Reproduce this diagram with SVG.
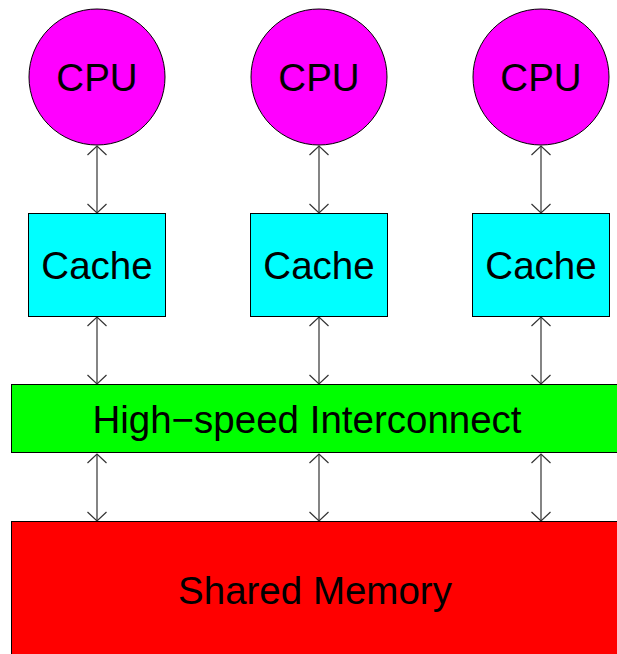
<svg xmlns="http://www.w3.org/2000/svg" width="617" height="654" viewBox="0 0 617 654">
<style>
.lbl{font-family:"Liberation Sans",Arial,sans-serif;font-size:38.5px;fill:#000;text-anchor:middle}
.node{stroke:#000;stroke-width:1}
.conn{stroke:#333;stroke-width:1.2;fill:none}
</style>
<defs>
<marker id="ah" viewBox="-11 -11 22 22" refX="0" refY="0" markerWidth="22" markerHeight="22" markerUnits="userSpaceOnUse" orient="auto-start-reverse" overflow="visible">
<path d="M-9,-9.5 L0,0 L-9,9.5" fill="none" stroke="#333" stroke-width="1.2"/>
</marker>
</defs>
<rect width="617" height="654" fill="#fff"/>
<g id="connectors">
<path class="conn" d="M97,146 V213" marker-start="url(#ah)" marker-end="url(#ah)"/>
<path class="conn" d="M319,146 V213" marker-start="url(#ah)" marker-end="url(#ah)"/>
<path class="conn" d="M541,146 V213" marker-start="url(#ah)" marker-end="url(#ah)"/>
<path class="conn" d="M97,317 V384" marker-start="url(#ah)" marker-end="url(#ah)"/>
<path class="conn" d="M319,317 V384" marker-start="url(#ah)" marker-end="url(#ah)"/>
<path class="conn" d="M541,317 V384" marker-start="url(#ah)" marker-end="url(#ah)"/>
<path class="conn" d="M97,454 V521" marker-start="url(#ah)" marker-end="url(#ah)"/>
<path class="conn" d="M319,454 V521" marker-start="url(#ah)" marker-end="url(#ah)"/>
<path class="conn" d="M541,454 V521" marker-start="url(#ah)" marker-end="url(#ah)"/>
</g>
<g id="cpu1"><circle class="node" cx="97" cy="77" r="68" fill="#ff00ff"/><text class="lbl" x="97" y="91">CPU</text></g>
<g id="cpu2"><circle class="node" cx="319" cy="77" r="68" fill="#ff00ff"/><text class="lbl" x="319" y="91">CPU</text></g>
<g id="cpu3"><circle class="node" cx="541" cy="77" r="68" fill="#ff00ff"/><text class="lbl" x="541" y="91">CPU</text></g>
<g id="cache1"><rect class="node" x="28.5" y="213.5" width="137" height="103" fill="#00ffff"/><text class="lbl" x="97" y="279">Cache</text></g>
<g id="cache2"><rect class="node" x="250.5" y="213.5" width="137" height="103" fill="#00ffff"/><text class="lbl" x="319" y="279">Cache</text></g>
<g id="cache3"><rect class="node" x="472.5" y="213.5" width="137" height="103" fill="#00ffff"/><text class="lbl" x="541" y="279">Cache</text></g>
<g id="interconnect"><rect class="node" x="11.5" y="384.5" width="620" height="68" fill="#00ff00"/><text class="lbl" x="307" y="433">High−speed Interconnect</text></g>
<g id="memory"><rect class="node" x="11.5" y="521.5" width="620" height="150" fill="#ff0000"/><text class="lbl" x="315" y="604">Shared Memory</text></g>
</svg>
